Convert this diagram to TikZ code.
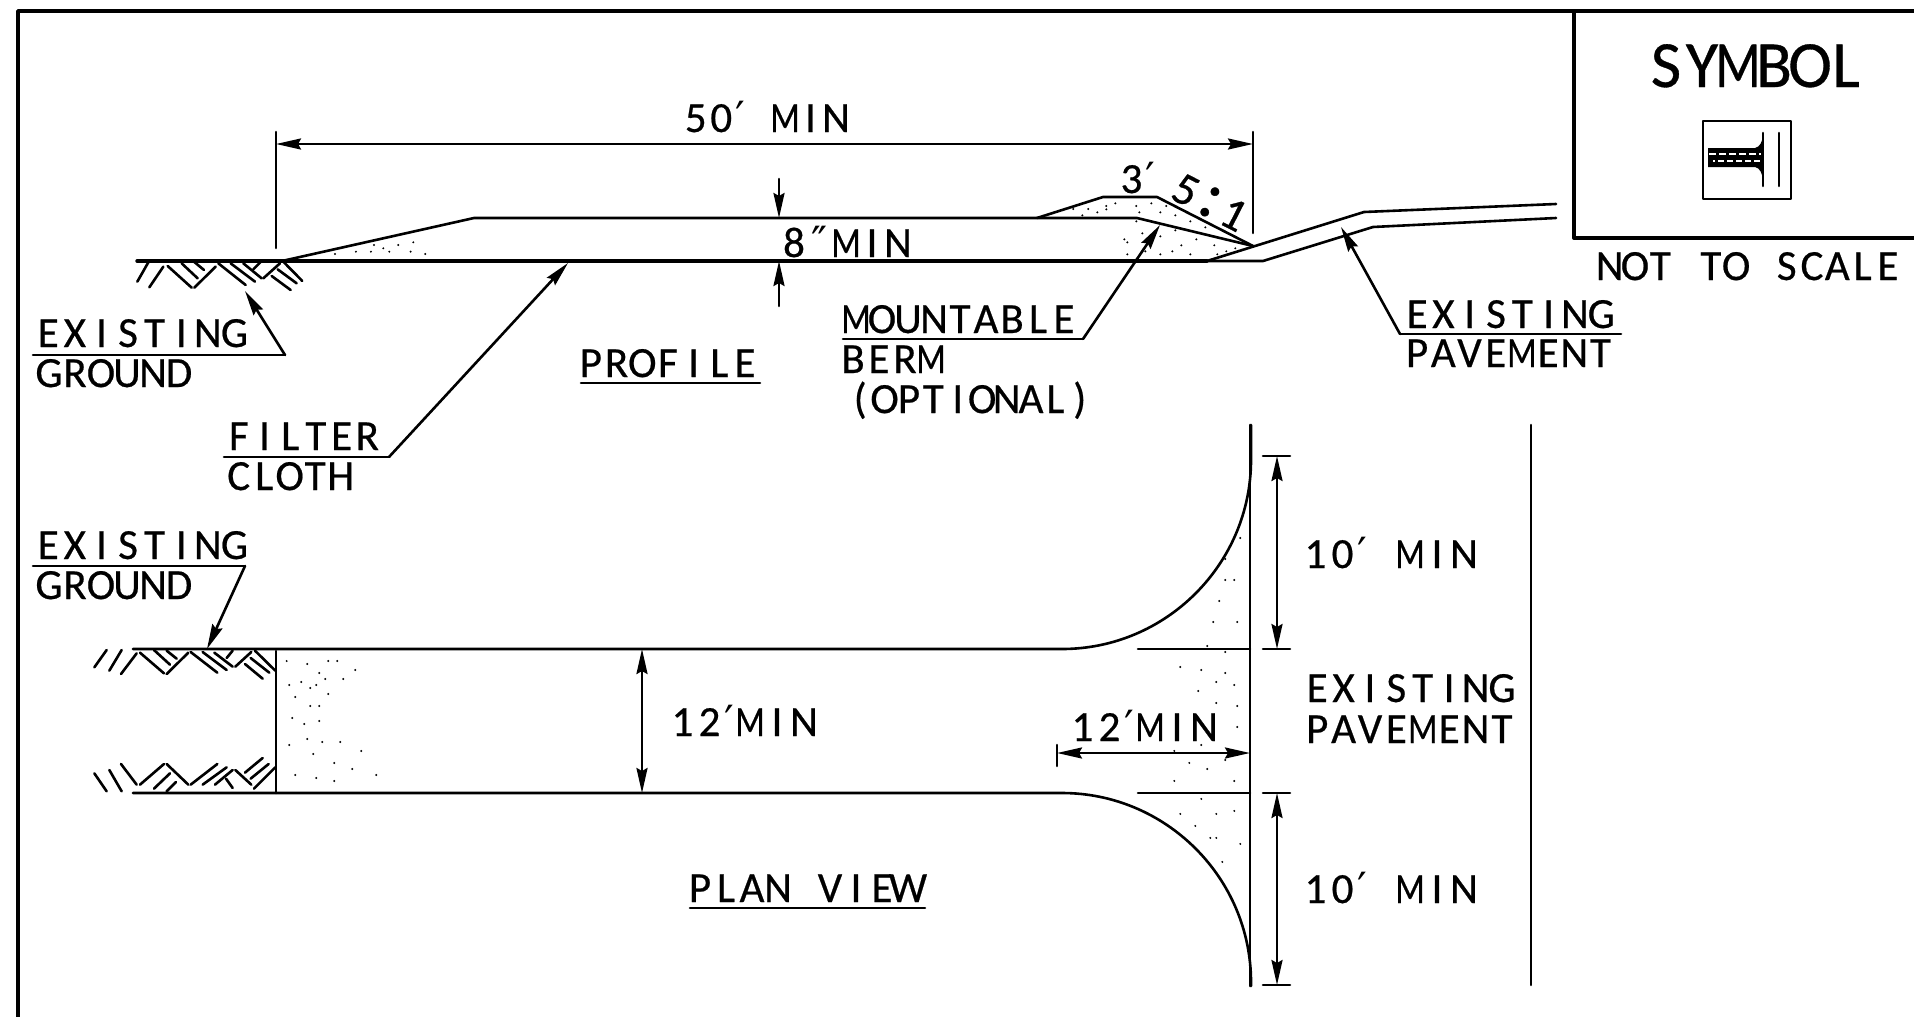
\documentclass[tikz,border=0pt]{standalone}
\usepackage{fontspec}
\setmainfont{Carlito}[FakeBold=0.5]
\newfontfamily\primefont{DejaVu Sans}
\usepackage{graphicx}
\usepackage{calc}
\usetikzlibrary{arrows.meta}
\makeatletter
\newcommand\cad[2]{\def\cadapos{'}\def\cadq{"}\def\cadm{M}\@tfor\cadch:=#2\do{\ifx\cadch\cadapos\makebox[#1pt*\real{0.5}][c]{\primefont ′}\else\ifx\cadch\cadq\makebox[#1pt][c]{\primefont ″}\else\ifx\cadch\cadm\makebox[#1pt][c]{\scalebox{0.8}[1]{M}}\else\makebox[#1pt][c]{\cadch}\fi\fi\fi}}
\makeatother
\newcommand\stip[3]{\begin{scope}[shift={(#1,#2)},x=0.3333pt,y=-0.3333pt]\foreach \a/\b in {#3}{\fill (\a,\b) circle (3.3);}\end{scope}}
\tikzset{
  txt/.style={anchor=base west,inner sep=0pt,outer sep=0pt,xshift=-3pt,font=\fontsize{43}{43}\selectfont},
  bigtxt/.style={anchor=base west,inner sep=0pt,outer sep=0pt,font=\fontsize{66}{66}\selectfont},
  ln/.style={line width=2.6pt,line cap=round,line join=round},
  hv/.style={line width=3.4pt,line cap=round,line join=round},
  arr/.style={ln,-{Stealth[length=25pt,width=11pt,inset=3pt]}},
  dbl/.style={ln,{Stealth[length=25pt,width=11pt,inset=3pt]}-{Stealth[length=25pt,width=11pt,inset=3pt]}},
}
\begin{document}
\begin{tikzpicture}[x=1pt,y=-1pt]
\useasboundingbox (0,0) rectangle (1914,1017);
\fill[white] (0,0) rectangle (1914,1017);
% frame
\draw[hv] (18,1017) -- (18,11) -- (1914,11);
% symbol box
\draw[hv] (1574,11) -- (1574,238) -- (1914,238);
\node[bigtxt] (symbol) at (1648,87) {\cad{36}{SYMBOL}};
\draw[ln] (1703,121) rectangle (1791,199);
\draw[ln] (1763,133) -- (1763,186);
\draw[ln] (1779,133) -- (1779,186);
\fill (1708,148) -- (1755,148) .. controls (1760,147) and (1762,142) .. (1763,136) -- (1763,180) .. controls (1762,173) and (1760,168) .. (1755,167) -- (1708,167) -- cycle;
\draw[white,line width=2.2pt,dash pattern=on 7pt off 3pt] (1709,154) -- (1761,154);
\draw[white,line width=2.2pt,dash pattern=on 6pt off 3pt,dash phase=4pt] (1713,161) -- (1761,161);
\node[txt,xshift=3pt] (nts) at (1597,280) {\cad{25.3}{NOT~TO~SCALE}};
% profile dimension 50'
\coordinate (extL) at (276,132); \coordinate (extLb) at (276,248);
\coordinate (extR) at (1253,132); \coordinate (extRb) at (1253,233);
\draw[ln] (extL) -- (extLb); \draw[ln] (extR) -- (extRb);
\draw[dbl] (extL |- 0,144) -- (extR |- 0,144);
\node[txt] (fifty) at (686,132) {\cad{25.5}{50'~MIN}};
% profile
\coordinate (gl) at (137,261);
\draw[hv] (gl) -- (1207,261);
\draw[ln] (282,261) -- (474,218) -- (1137,218) -- (1253,246);
\draw[ln] (1037,218) -- (1103,197) -- (1157,197) -- (1253,246);
\draw[ln] (1207,261) -- (1263,261) -- (1373,227) -- (1556,218);
\draw[ln] (1207,261) -- (1364,212) -- (1556,204);
% ground hatch profile
\begin{scope}[shift={(100,200)},x=0.3333pt,y=-0.3333pt]
\foreach \a/\b/\c/\d in {145/187/112/245,190/200/148/262,203/198/275/263,245/190/293/235,283/186/312/210,347/200/283/263,355/190/437/255,392/190/465/245,430/190/485/235,482/186/460/208,540/190/490/235,550/185/607/243,533/208/590/250,515/228/572/270}{\draw[ln] (\a,\b) -- (\c,\d);}
\end{scope}
\stip{100}{200}{705/162,768/155,813/155,822/135,850/145,868/155,895/135,932/155,940/127,976/162}
\stip{980}{150}{280/177,307/196,325/177,352/187,379/168,379/178,406/160,469/168,478/187,514/160,541/187,559/168,586/196,631/214,676/232,469/214,487/250,541/259,586/241,649/268,703/286,739/304,766/295,433/268,442/277,442/313,496/304,541/313,577/304,604/286,631/313,712/313}
% 8" dim
\coordinate (eightT) at (779,179); \coordinate (eightB) at (779,306);
\draw[arr] (eightT) -- (779,218);
\draw[arr] (eightB) -- (779,261);
\node[txt] (eight) at (784,257) {\cad{26}{8"MIN}};
\node[txt] (threeft) at (1122,193) {\cad{25}{3'}};
\node[anchor=center,inner sep=0pt,rotate=-27,font=\fontsize{46}{46}\selectfont] (slope) at (1210,202) {\cad{27}{5{\scalebox{1.5}{:}}1}};
% labels profile
\node[txt] (eg1) at (38,347) {\cad{26.6}{EXISTING}};
\node[txt] (eg1b) at (39,387) {\cad{26}{GROUND}};
\coordinate (eg1k) at (285,355);
\draw[ln] (33,355) -- (eg1k);
\draw[arr] (eg1k) -- (245,291);
\node[txt] (prof) at (581,377) {\cad{25.7}{PROFILE}};
\draw[ln] (581,383) -- (760,383);
\node[txt] (fc) at (229,450) {\cad{25.7}{FILTER}};
\node[txt] (fcb) at (229,490) {\cad{25.5}{CLOTH}};
\coordinate (fck) at (389,457);
\draw[ln] (224,457) -- (fck);
\draw[arr] (fck) -- (568,263);
\node[txt,xshift=3pt] (mb) at (843,333) {\cad{26}{MOUNTABLE}};
\node[txt] (mbb) at (843,373) {\cad{26}{BERM}};
\node[txt] (mbc) at (851,413) {\cad{24.4}{(OPTIONAL)}};
\coordinate (mbk) at (1083,339);
\draw[ln] (843,339) -- (mbk);
\draw[arr] (mbk) -- (1160,225);
\node[txt] (ep) at (1407,328) {\cad{26.3}{EXISTING}};
\node[txt] (epb) at (1407,367) {\cad{26.2}{PAVEMENT}};
\coordinate (epk) at (1400,334);
\draw[ln] (epk) -- (1621,334);
\draw[arr] (epk) -- (1341,227);
% plan view
\draw[ln] (133,649) -- (1062,649) .. controls (1166,649) and (1251,564) .. (1251,460) -- (1251,425);
\draw[ln] (133,793) -- (1062,793) .. controls (1166,793) and (1251,878) .. (1251,982) -- (1251,986);
\draw[ln] (1250,425) -- (1250,986);
\draw[ln] (276,651) -- (276,793);
\draw[ln] (1138,649) -- (1250,649);
\draw[ln] (1138,793) -- (1250,793);
\draw[ln] (1531,425) -- (1531,985);
\begin{scope}[shift={(80,620)},x=0.3333pt,y=-0.3333pt]
\foreach \a/\b/\c/\d in {80/90/43/142,125/90/88/152,170/100/123/162,180/98/252/160,222/90/270/134,260/92/290/116,325/98/260/162,332/96/412/158,368/96/440/150,403/98/458/140,458/92/440/114,514/96/466/140,525/92/586/152,512/114/568/158,495/132/548/176,
43/460/80/514,88/450/125/514,123/432/170/494,180/494/252/432,222/506/270/460,260/514/288/486,325/494/260/432,332/494/412/432,368/494/440/442,405/494/458/450,438/476/458/504,514/494/466/450,522/506/586/442,512/476/566/432,495/458/548/414}{\draw[ln] (\a,\b) -- (\c,\d);}
\end{scope}
\stip{80}{620}{620/123,682/132,745/123,772/123,718/159,826/150,736/177,790/177,664/186,628/195,691/204,709/195,745/222,646/231,691/258,718/258,637/294,673/312,718/303,682/357,727/366,781/366,628/375,700/402,844/393,763/429,817/447,646/465,709/474,763/483,889/465}
\stip{1040}{500}{601/114,556/177,556/240,583/240,538/303,520/366,592/366,502/438,556/456,421/501,484/510,556/519,529/546,583/555,475/573,529/609,592/618,592/681,484/735,403/753,556/780,448/789,502/807,403/843,583/843,484/897,421/942,529/942,583/933,466/978,511/1014,529/1014,601/1032,547/1086}
% plan dims
\draw[ln] (1263,456) -- (1290,456); \draw[ln] (1263,649) -- (1290,649);
\draw[ln] (1263,793) -- (1290,793); \draw[ln] (1263,985) -- (1290,985);
\draw[dbl] (1277,456) -- (1277,649);
\draw[dbl] (1277,793) -- (1277,985);
\draw[dbl] (642,649) -- (642,793);
\draw[ln] (1057,745) -- (1057,766);
\draw[dbl] (1057,753) -- (1250,753);
% plan labels
\node[txt] (eg2) at (38,559) {\cad{26.6}{EXISTING}};
\node[txt] (eg2b) at (39,599) {\cad{26}{GROUND}};
\coordinate (eg2k) at (245,566);
\draw[ln] (33,566) -- (eg2k);
\draw[arr] (eg2k) -- (207,649);
\node[txt] (twA) at (672,736) {\cad{27}{12'MIN}};
\node[txt] (twB) at (1072,741) {\cad{27}{12'MIN}};
\node[txt] (tnA) at (1305,568) {\cad{27}{10'~MIN}};
\node[txt] (tnB) at (1305,903) {\cad{27}{10'~MIN}};
\node[txt] (pv1) at (1307,702) {\cad{26.4}{EXISTING}};
\node[txt] (pv2) at (1307,743) {\cad{26.4}{PAVEMENT}};
\node[txt] (plan) at (690,902) {\cad{26}{PLAN~VIEW}};
\draw[ln] (690,908) -- (925,908);
\end{tikzpicture}
\end{document}
